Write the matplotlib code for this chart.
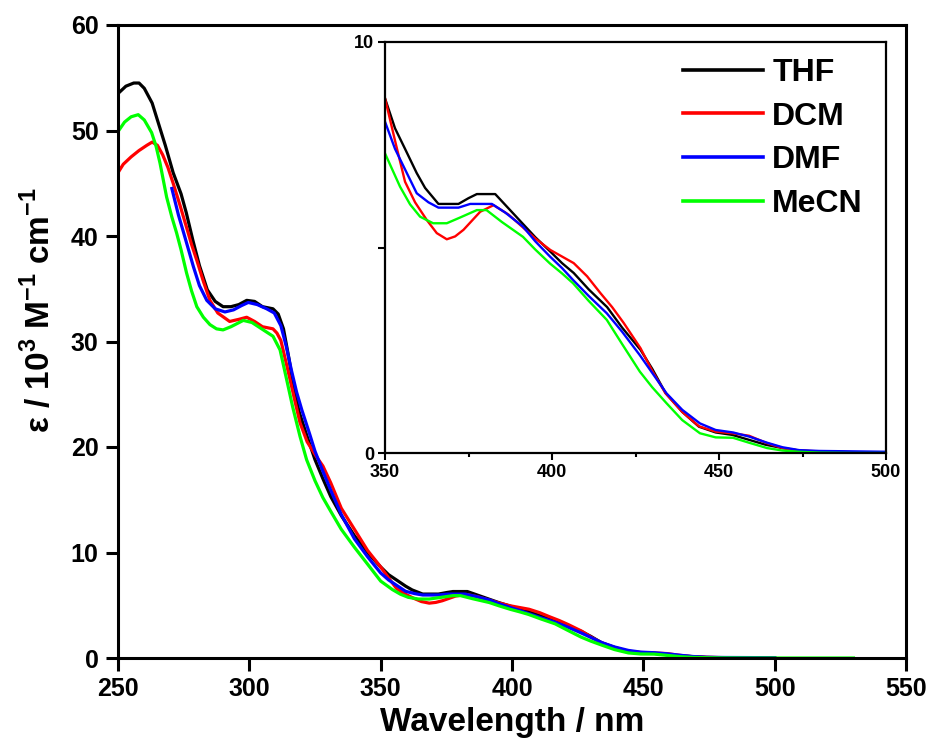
import matplotlib
matplotlib.use("Agg")
import matplotlib.pyplot as plt

plt.rcParams['font.family'] = ['Liberation Sans', 'DejaVu Sans']
plt.rcParams['font.weight'] = 'bold'
plt.rcParams['mathtext.fontset'] = 'custom'
plt.rcParams['mathtext.rm'] = 'Liberation Sans:bold'
plt.rcParams['mathtext.bf'] = 'Liberation Sans:bold'

# ---- data ----
thf_x = [250, 253, 256, 258, 260, 263, 266, 268, 271, 274, 276, 278.5, 281, 284, 287, 290, 293, 296, 299,
         302, 305, 309, 311, 313, 315, 317, 319, 322, 325, 328, 331, 335, 340, 345, 350, 353, 356, 359.5,
         362, 366, 372, 375, 377.5, 383, 387, 391, 395, 399.5, 403, 406.5, 411, 416.5, 421, 426.5, 430,
         434, 439, 444, 449, 454, 459, 464, 469, 474, 480, 490, 500]
thf_y = [53.5, 54.2, 54.5, 54.5, 54.0, 52.6, 50.2, 48.6, 46.0, 44.0, 42.2, 39.6, 37.2, 34.9, 33.8, 33.3, 33.3,
         33.5, 33.9, 33.8, 33.3, 33.1, 32.6, 31.2, 28.5, 25.5, 23.3, 21.0, 18.8, 17.0, 15.3, 13.5, 11.6, 10.0,
         8.63, 7.9, 7.4, 6.81, 6.45, 6.06, 6.06, 6.2, 6.30, 6.30, 5.95, 5.6, 5.25, 4.90, 4.62, 4.38, 3.98,
         3.55, 3.05, 2.51, 2.05, 1.46, 1.0, 0.64, 0.5, 0.44, 0.32, 0.2, 0.12, 0.06, 0.03, 0.01, 0.0]

dcm_x = [250, 252, 255, 258, 261, 263, 265, 267, 269, 271, 273.5, 276, 278, 280, 282.5, 285, 288, 292.5, 296,
         299, 302, 305, 309, 310.5, 312, 314, 315.5, 317.5, 319.3, 322, 325.5, 328, 331, 335, 340, 345, 350,
         353, 356, 359, 362.5, 365.5, 368.5, 371, 373.5, 376, 378.5, 382.5, 387, 391, 395, 399.5, 403,
         406.5, 410.5, 414.5, 418, 421.5, 426.5, 430, 434, 439, 444, 449, 454, 459, 464, 469, 474, 480,
         490, 500]
dcm_y = [46.0, 46.8, 47.5, 48.1, 48.6, 48.9, 48.6, 47.7, 46.5, 45.0, 43.0, 40.9, 39.2, 37.7, 35.7, 33.9, 32.7,
         31.9, 32.1, 32.3, 31.9, 31.4, 31.2, 30.8, 30.1, 28.0, 26.4, 24.2, 22.3, 20.5, 19.1, 18.2, 16.6, 14.2,
         12.2, 10.2, 8.63, 7.6, 6.6, 6.1, 5.67, 5.35, 5.2, 5.27, 5.43, 5.65, 5.87, 6.03, 5.8, 5.51, 5.22,
         4.94, 4.78, 4.62, 4.3, 3.89, 3.55, 3.16, 2.55, 2.0, 1.45, 1.0, 0.65, 0.52, 0.48, 0.42, 0.25, 0.12,
         0.06, 0.04, 0.02, 0.0]

dmf_x = [270.5, 273, 275, 278.7, 281, 283.8, 287, 290.7, 294, 297, 299.6, 303, 306.6, 309.5, 312, 314, 316,
         318, 320, 323, 325, 328, 331, 335, 340, 345, 350, 353, 356, 359.5, 363, 366, 372, 375.5, 382, 386,
         391.3, 395, 399.4, 403, 406.3, 411, 416.4, 421, 426.3, 430, 434.3, 439, 444.3, 449, 454.2, 459,
         464.4, 469, 474, 480, 490, 500]
dmf_y = [44.5, 42.0, 40.3, 37.1, 35.3, 33.9, 33.1, 32.8, 33.0, 33.4, 33.7, 33.5, 33.1, 32.7, 31.5, 29.6, 27.3,
         25.2, 23.5, 21.2, 19.6, 17.7, 15.9, 13.6, 11.3, 9.6, 8.06, 7.4, 6.9, 6.32, 6.1, 5.97, 5.97, 6.06,
         6.06, 5.85, 5.51, 5.15, 4.78, 4.5, 4.21, 3.82, 3.4, 2.95, 2.38, 1.95, 1.45, 1.05, 0.72, 0.56, 0.5,
         0.4, 0.25, 0.14, 0.07, 0.05, 0.04, 0.03]

mecn_x = [250, 252.5, 255, 257.7, 260, 262.8, 264.5, 266, 268.5, 270.5, 272.3, 274, 276.1, 278, 280, 282.5,
          285, 287.5, 290, 293, 297.7, 301, 305.3, 309, 311.7, 314.2, 316.5, 319.3, 321.8, 325, 328, 331,
          335, 340, 345, 350, 354.5, 357.5, 360.5, 364.4, 368.5, 372.5, 377.5, 380.4, 385, 391.3, 395,
          399.4, 403, 406.3, 411, 416.4, 421, 426.3, 430, 434.3, 439, 444.3, 449, 454.2, 459, 464.4, 469,
          474, 480, 490, 500, 510, 520, 530]
mecn_y = [49.9, 50.8, 51.3, 51.5, 51.0, 49.8, 48.5, 46.9, 43.7, 41.8, 40.3, 38.7, 36.5, 34.8, 33.3, 32.3, 31.6,
          31.2, 31.1, 31.4, 32.0, 31.8, 31.1, 30.5, 29.2, 26.4, 23.8, 21.0, 18.8, 16.8, 15.2, 13.9, 12.2,
          10.5, 8.9, 7.29, 6.48, 6.05, 5.75, 5.59, 5.59, 5.73, 5.91, 5.91, 5.62, 5.26, 4.95, 4.61, 4.37,
          4.13, 3.7, 3.24, 2.65, 1.98, 1.6, 1.21, 0.8, 0.48, 0.38, 0.37, 0.25, 0.12, 0.06, 0.03, 0.01, 0.0,
          0.0, 0.0, 0.0, 0.0]

series_names = ['THF', 'DCM', 'DMF', 'MeCN']
series_colors = ['#000000', '#ff0000', '#0000ff', '#00ff00']
series = [(thf_x, thf_y), (dcm_x, dcm_y), (dmf_x, dmf_y), (mecn_x, mecn_y)]

main_xticks = [250, 300, 350, 400, 450, 500, 550]
main_yticks = [0, 10, 20, 30, 40, 50, 60]
inset_xticks = [350, 400, 450, 500]
inset_xminor = [375, 425, 475]
inset_yticks = [0, 5, 10]
inset_ylabels = ['0', '', '10']

# ---- figure ----
fig = plt.figure(figsize=(9.33, 7.47), dpi=100)
ax = fig.add_axes([118/933, 1-658/747, (906-118)/933, (658-25)/747])

for (x, y), c, n in zip(series, series_colors, series_names):
    ax.plot(x, y, color=c, lw=2.3, label=n)

ax.set_xlim(250, 550)
ax.set_ylim(0, 60)
ax.set_xticks(main_xticks)
ax.set_yticks(main_yticks)
ax.tick_params(direction='out', length=9, width=2.2, labelsize=18, pad=5)
for lab in ax.get_xticklabels() + ax.get_yticklabels():
    lab.set_fontweight('bold')
for s in ax.spines.values():
    s.set_linewidth(2.2)
ax.set_xlabel('Wavelength / nm', fontsize=24, fontweight='bold', labelpad=4)
ax.set_ylabel(r'ε / 10$^{3}$ M$^{-1}$ cm$^{-1}$', fontsize=24, fontweight='bold')
ax.yaxis.set_label_coords(-0.077, 0.55)

# inset
axi = fig.add_axes([385/933, 1-453/747, (886-385)/933, (453-42)/747])
for (x, y), c, n in zip(series, series_colors, series_names):
    axi.plot(x, y, color=c, lw=1.7, label=n)
axi.set_xlim(350, 500)
axi.set_ylim(0, 10)
axi.set_xticks(inset_xticks)
axi.set_xticks(inset_xminor, minor=True)
axi.set_yticks(inset_yticks)
axi.set_yticklabels(inset_ylabels)
axi.tick_params(which='major', direction='out', length=5, width=1.5, labelsize=13, pad=3)
axi.tick_params(which='minor', direction='out', length=3, width=1.5)
for lab in axi.get_xticklabels() + axi.get_yticklabels():
    lab.set_fontweight('bold')
for s in axi.spines.values():
    s.set_linewidth(1.6)

leg = axi.legend(loc='upper left', bbox_to_anchor=(670/933, 1-45/747), bbox_transform=fig.transFigure,
                 frameon=False, handlelength=2.5, handletextpad=0.3, labelspacing=0.43,
                 borderaxespad=0, prop={'weight': 'bold', 'size': 23})
for h in leg.get_lines():
    h.set_linewidth(2.6)

fig.savefig('out.png', dpi=100)
